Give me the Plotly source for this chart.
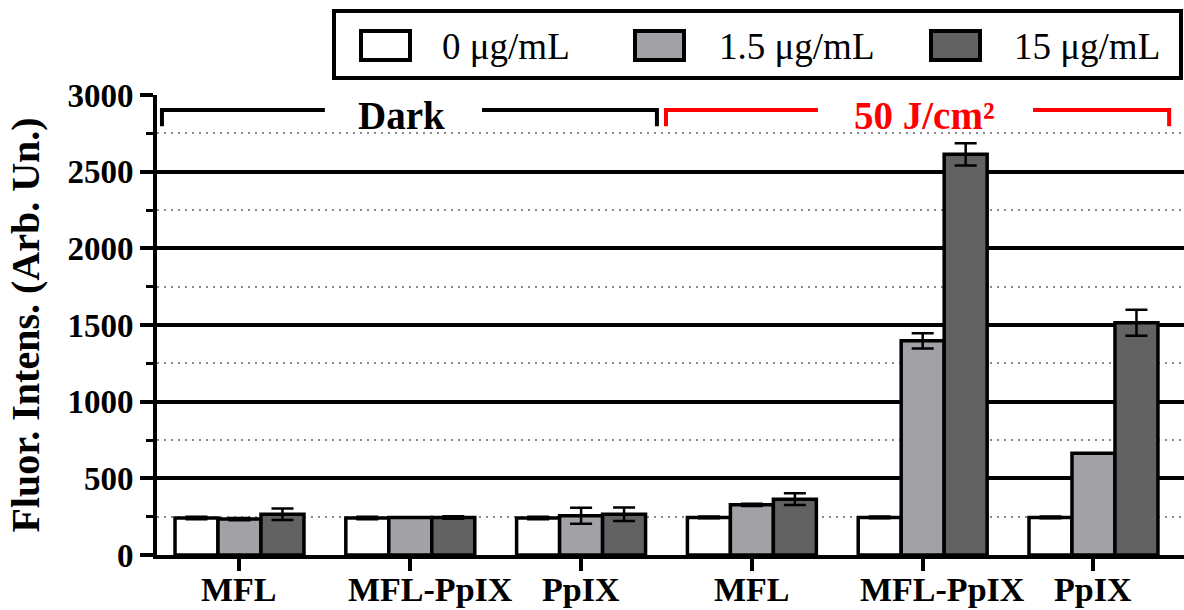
import plotly.graph_objects as go

# ---------------- data ----------------
groups = ["MFL", "MFL-PpIX", "PpIX", "MFL", "MFL-PpIX", "PpIX"]
series_names = ["0 μg/mL", "1.5 μg/mL", "15 μg/mL"]
series_colors = ["#ffffff", "#a2a2a6", "#626262"]

vals_0 = [241, 241, 241, 245, 245, 245]
vals_15 = [234, 245, 256, 327, 1397, 664]
vals_150 = [266, 245, 265, 364, 2613, 1515]

err_0 = [8, 8, 8, 6, 6, 6]
err_15 = [8, 0, 52, 8, 50, 0]
err_150 = [38, 8, 44, 38, 72, 85]

condition_labels = ["Dark", "50 J/cm²"]
condition_colors = ["#000000", "#ff0000"]

y_ticks = [0, 500, 1000, 1500, 2000, 2500, 3000]

SERIF = "Liberation Serif, Times New Roman, serif"

x_pos = list(range(len(groups)))
all_vals = [vals_0, vals_15, vals_150]
all_errs = [err_0, err_15, err_150]

fig = go.Figure()
for name, col, v, e in zip(series_names, series_colors, all_vals, all_errs):
    fig.add_trace(go.Bar(
        x=x_pos, y=v, name=name, showlegend=False,
        marker=dict(color=col, line=dict(color="black", width=3.5)),
        error_y=dict(type="data", array=e, visible=True, color="black",
                     thickness=2.5, width=11),
    ))

# ---------------- layout ----------------
fig.update_layout(
    width=1184, height=610,
    margin=dict(l=157, r=0, t=95, b=55, autoexpand=False),
    paper_bgcolor="white", plot_bgcolor="white",
    barmode="group", bargap=0.245, bargroupgap=0,
    font=dict(family=SERIF, color="black"),
)
fig.update_xaxes(
    range=[-0.483, 5.53], tickvals=x_pos, showticklabels=False,
    showline=True, linecolor="black", linewidth=4,
    ticks="outside", ticklen=12, tickwidth=4, tickcolor="black",
    showgrid=False, zeroline=False,
)
fig.update_yaxes(
    range=[0, 3000], tickvals=y_ticks,
    showline=True, linecolor="black", linewidth=4,
    ticks="outside", ticklen=13, tickwidth=4, tickcolor="black",
    tickfont=dict(family=SERIF, size=33, color="black", weight="bold"),
    showgrid=True, gridcolor="black", gridwidth=3.5, zeroline=False,
    minor=dict(tick0=250, dtick=500, ticks="outside", ticklen=7, tickwidth=3,
               tickcolor="black", showgrid=True, gridcolor="#8a8a8a",
               gridwidth=1.5, griddash="2px,5px"),
    title=dict(text="Fluor. Intens. (Arb. Un.)", standoff=16,
               font=dict(family=SERIF, size=40, color="black", weight="bold")),
)

shapes = []
annotations = []

# ---------------- category labels under the axis ----------------
label_shift = {"MFL-PpIX": 0.117}
for i, g in enumerate(groups):
    annotations.append(dict(x=i + label_shift.get(g, 0.0), y=-0.074,
                            xref="x", yref="paper", text=g, showarrow=False,
                            xanchor="center", yanchor="middle", borderpad=0,
                            font=dict(family=SERIF, size=34, color="black", weight="bold")))

# ---------------- condition brackets ----------------
# (left end, gap start, gap end, right end, label x) relative to group index
brackets = [
    (0 - 0.454, 0.50, 1.42, 2 + 0.444, 0.951),
    (3 - 0.503, 3.387, 4.646, 5 + 0.443, 4.01),
]
y_line, y_tip, y_text = 2902, 2797, 2869
for (x0, g0, g1, x1, xt), lab, col in zip(brackets, condition_labels, condition_colors):
    ln = dict(color=col, width=4)
    shapes.append(dict(type="path", xref="x", yref="y", line=ln,
                       path=f"M{x0},{y_tip} L{x0},{y_line} L{g0},{y_line}"))
    shapes.append(dict(type="path", xref="x", yref="y", line=ln,
                       path=f"M{g1},{y_line} L{x1},{y_line} L{x1},{y_tip}"))
    annotations.append(dict(x=xt, y=y_text, xref="x", yref="y", text=lab,
                            showarrow=False,
                            font=dict(family=SERIF, size=39, color=col, weight="bold")))

# ---------------- custom legend (top) ----------------
def px2paper_x(px):
    return (px - 157) / (1184 - 157)

def py2paper_y(py):
    return (555 - py) / (555 - 95)

shapes.append(dict(type="rect", xref="paper", yref="paper",
                   x0=px2paper_x(334), x1=px2paper_x(1181),
                   y0=py2paper_y(78), y1=py2paper_y(11),
                   line=dict(color="black", width=4), fillcolor="white"))
legend_box_x = [359, 633, 929]
legend_text_x = [440, 717, 1012]
for bx, tx, name, col in zip(legend_box_x, legend_text_x, series_names, series_colors):
    shapes.append(dict(type="rect", xref="paper", yref="paper",
                       x0=px2paper_x(bx + 2), x1=px2paper_x(bx + 51),
                       y0=py2paper_y(60), y1=py2paper_y(31),
                       line=dict(color="black", width=4), fillcolor=col))
    annotations.append(dict(x=px2paper_x(tx), y=py2paper_y(46), xref="paper", yref="paper",
                            text=name, showarrow=False, xanchor="left", yanchor="middle",
                            font=dict(family=SERIF, size=37, color="black")))

fig.update_layout(shapes=shapes, annotations=annotations)

fig.write_html("out.html")
